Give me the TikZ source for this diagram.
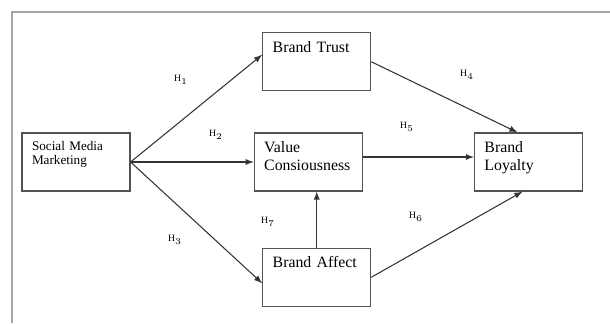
\documentclass[tikz,border=0pt]{standalone}
\usepackage{fontspec}
\setmainfont{Liberation Serif}
\usepackage{tikz}
\usetikzlibrary{arrows,shapes,positioning}

\begin{document}
\begin{tikzpicture}[
        >=latex,
        link/.style={->, line width=0.6pt, draw=gray!40!black},
        construct/.style={draw=gray!65!black, line width=0.7pt, text width=1.76cm, align=left,
            inner xsep=0.2cm, inner ysep=0.1cm, text height=0.29cm, text depth=0.67cm,
            font=\fontsize{9}{10.5}\selectfont},
        hyp/.style={inner sep=0pt, font=\fontsize{5.5}{6}\selectfont}
    ]

    \useasboundingbox (-1.52,-3.22) rectangle (10.68,3.24);
    \draw[gray!70, line width=1.1pt] (-1.28,-3.22) |- (10.68,3.0);

    % Nodes
    \node (smm)[construct, text height=0.25cm, text depth=0.71cm,
        font=\fontsize{7.5}{8.2}\selectfont] at (0,0) {Social Media \\ Marketing};
    \node (value)[right=2.46cm of smm, construct] {Value \\ Consiousness};
    \node (loyalty)[right=2.22cm of value, construct] {Brand \\ Loyalty};
    \node (trust)[above=0.82cm of value, construct, xshift=0.17cm] {Brand Trust};
    \node (affect)[below=1.12cm of value, construct, xshift=0.17cm] {Brand Affect};

    % Hypotheses
    \node (h1)[hyp] at (2.10,1.64) {H$_1$};
    \node (h2)[hyp] at (2.80,0.54) {H$_2$};
    \node (h3)[hyp] at (1.98,-1.56) {H$_3$};
    \node (h4)[hyp] at (7.82,1.74) {H$_4$};
    \node (h5)[hyp] at (6.62,0.70) {H$_5$};
    \node (h6)[hyp] at (6.80,-1.10) {H$_6$};
    \node (h7)[hyp] at (3.84,-1.20) {H$_7$};

    % Edges
    \draw[link] (smm.east) -- ([yshift=0.14cm]trust.west);
    \draw[link] (smm.east) -- (value.west);
    \draw[link] (smm.east) -- ([yshift=-0.12cm]affect.west);
    \draw[link] (trust.east) -- ([xshift=-0.22cm]loyalty.north);
    \draw[link] ([yshift=0.1cm]value.east) -- ([yshift=0.1cm]loyalty.west);
    \draw[link] (affect.east) -- ([xshift=-0.12cm]loyalty.south);
    \draw[link] (affect.north) -- (affect.north |- value.south);

\end{tikzpicture}
\end{document}
